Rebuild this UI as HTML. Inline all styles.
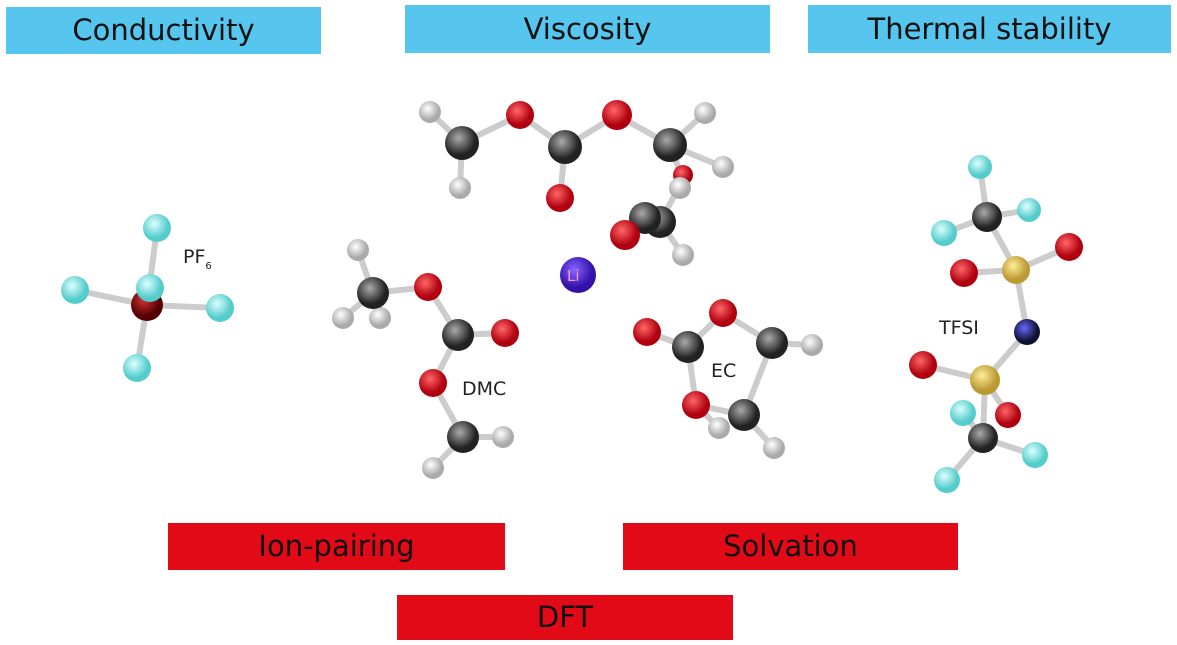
<!DOCTYPE html>
<html><head><style>
body{margin:0;background:#fff;}
.b{position:absolute;font-family:"DejaVu Sans","Liberation Sans",sans-serif;font-size:29px;color:#111;text-align:center;}
.bl{background:#56c6ef;}
.rd{background:#e30a17;}
</style></head><body>
<div style="position:relative;width:1177px;height:645px;overflow:hidden">
<div class="b bl" style="left:6px;top:7px;width:315px;height:47px;line-height:47px">Conductivity</div>
<div class="b bl" style="left:405px;top:5px;width:365px;height:48px;line-height:48px">Viscosity</div>
<div class="b bl" style="left:808px;top:5px;width:363px;height:48px;line-height:48px">Thermal stability</div>
<div class="b rd" style="left:168px;top:523px;width:337px;height:47px;line-height:47px">Ion-pairing</div>
<div class="b rd" style="left:623px;top:523px;width:335px;height:47px;line-height:47px">Solvation</div>
<div class="b rd" style="left:397px;top:595px;width:336px;height:45px;line-height:45px">DFT</div>
<svg width="1177" height="645" style="position:absolute;left:0;top:0">
<defs>
<radialGradient id="H" cx="40%" cy="35%"><stop offset="0" stop-color="#fff"/><stop offset="1" stop-color="#aaa"/></radialGradient>
<radialGradient id="C" cx="40%" cy="35%"><stop offset="0" stop-color="#aaa"/><stop offset="1" stop-color="#222"/></radialGradient>
<radialGradient id="O" cx="40%" cy="35%"><stop offset="0" stop-color="#f66"/><stop offset="1" stop-color="#b00010"/></radialGradient>
<radialGradient id="F" cx="40%" cy="35%"><stop offset="0" stop-color="#dff"/><stop offset="1" stop-color="#5cc"/></radialGradient>
<radialGradient id="S" cx="40%" cy="35%"><stop offset="0" stop-color="#fe9"/><stop offset="1" stop-color="#b93"/></radialGradient>
<radialGradient id="N" cx="40%" cy="35%"><stop offset="0" stop-color="#66f"/><stop offset="1" stop-color="#113"/></radialGradient>
<radialGradient id="L" cx="40%" cy="35%"><stop offset="0" stop-color="#86f"/><stop offset="1" stop-color="#31a"/></radialGradient>
<radialGradient id="P" cx="40%" cy="35%"><stop offset="0" stop-color="#c33"/><stop offset="1" stop-color="#500"/></radialGradient>
</defs>
<g stroke="#ccc" stroke-width="6" fill="none">
<path d="M147,305L157,228M147,305L75,290M147,305L220,308M147,305L137,368"/>
<path d="M358,250L373,293L428,287L458,335L505,333M458,335L433,383L463,437L503,437M463,437L433,468M373,293L343,318M373,293L380,318"/>
<path d="M430,112L462,143L520,115L565,147L560,198M565,147L617,115L670,145L705,113M670,145L723,167M670,145L683,180L660,222L625,235M660,222L683,255M462,143L460,188"/>
<path d="M647,332L688,347L723,313L772,343L812,345M688,347L696,405L744,415L772,343M744,415L774,448M696,405L719,428"/>
<path d="M980,167L987,217L1029,210M987,217L944,233M987,217L1016,270L1069,247M1016,270L964,273M1016,270L1027,332L985,380L923,365M985,380L1008,415M985,380L983,438L1035,455M983,438L947,480M983,438L963,413"/>
</g>
<g>
<circle cx="157" cy="228" r="14" fill="url(#F)"/><circle cx="75" cy="290" r="14" fill="url(#F)"/>
<circle cx="147" cy="305" r="16" fill="url(#P)"/><circle cx="150" cy="288" r="14" fill="url(#F)"/>
<circle cx="220" cy="308" r="14" fill="url(#F)"/><circle cx="137" cy="368" r="14" fill="url(#F)"/>
<circle cx="358" cy="250" r="11" fill="url(#H)"/><circle cx="343" cy="318" r="11" fill="url(#H)"/><circle cx="380" cy="318" r="11" fill="url(#H)"/>
<circle cx="373" cy="293" r="16" fill="url(#C)"/><circle cx="428" cy="287" r="14" fill="url(#O)"/>
<circle cx="458" cy="335" r="16" fill="url(#C)"/><circle cx="505" cy="333" r="14" fill="url(#O)"/>
<circle cx="433" cy="383" r="14" fill="url(#O)"/><circle cx="463" cy="437" r="16" fill="url(#C)"/>
<circle cx="503" cy="437" r="11" fill="url(#H)"/><circle cx="433" cy="468" r="11" fill="url(#H)"/>
<circle cx="430" cy="112" r="11" fill="url(#H)"/><circle cx="460" cy="188" r="11" fill="url(#H)"/>
<circle cx="462" cy="143" r="17" fill="url(#C)"/><circle cx="520" cy="115" r="14" fill="url(#O)"/>
<circle cx="565" cy="147" r="17" fill="url(#C)"/><circle cx="560" cy="198" r="14" fill="url(#O)"/>
<circle cx="617" cy="115" r="15" fill="url(#O)"/>
<circle cx="705" cy="113" r="11" fill="url(#H)"/><circle cx="723" cy="167" r="11" fill="url(#H)"/>
<circle cx="670" cy="145" r="17" fill="url(#C)"/><circle cx="683" cy="175" r="10" fill="url(#O)"/><circle cx="680" cy="188" r="11" fill="url(#H)"/>
<circle cx="660" cy="222" r="16" fill="url(#C)"/><circle cx="645" cy="218" r="16" fill="url(#C)"/><circle cx="625" cy="235" r="15" fill="url(#O)"/>
<circle cx="683" cy="255" r="11" fill="url(#H)"/>
<circle cx="578" cy="275" r="18" fill="url(#L)"/>
<circle cx="647" cy="332" r="14" fill="url(#O)"/><circle cx="723" cy="313" r="14" fill="url(#O)"/>
<circle cx="688" cy="347" r="16" fill="url(#C)"/><circle cx="772" cy="343" r="16" fill="url(#C)"/>
<circle cx="812" cy="345" r="11" fill="url(#H)"/><circle cx="696" cy="405" r="14" fill="url(#O)"/>
<circle cx="719" cy="428" r="11" fill="url(#H)"/><circle cx="744" cy="415" r="16" fill="url(#C)"/>
<circle cx="774" cy="448" r="11" fill="url(#H)"/>
<circle cx="980" cy="167" r="12" fill="url(#F)"/><circle cx="1029" cy="210" r="12" fill="url(#F)"/>
<circle cx="987" cy="217" r="15" fill="url(#C)"/><circle cx="944" cy="233" r="13" fill="url(#F)"/>
<circle cx="1069" cy="247" r="14" fill="url(#O)"/><circle cx="964" cy="273" r="14" fill="url(#O)"/>
<circle cx="1016" cy="270" r="14" fill="url(#S)"/><circle cx="1027" cy="332" r="13" fill="url(#N)"/>
<circle cx="923" cy="365" r="14" fill="url(#O)"/><circle cx="985" cy="380" r="15" fill="url(#S)"/>
<circle cx="1008" cy="415" r="13" fill="url(#O)"/><circle cx="963" cy="413" r="13" fill="url(#F)"/>
<circle cx="983" cy="438" r="15" fill="url(#C)"/><circle cx="1035" cy="455" r="13" fill="url(#F)"/>
<circle cx="947" cy="480" r="13" fill="url(#F)"/>
</g>
<g font-family="DejaVu Sans,Liberation Sans,sans-serif" font-size="19" fill="#222">
<text x="183" y="263">PF<tspan font-size="10" dy="6">6</tspan></text>
<text x="462" y="395">DMC</text>
<text x="711" y="377">EC</text>
<text x="939" y="334">TFSI</text>
<text x="567" y="281" font-size="15" fill="#f9c">Li</text>
</g>
</svg>
</div>
</body></html>
